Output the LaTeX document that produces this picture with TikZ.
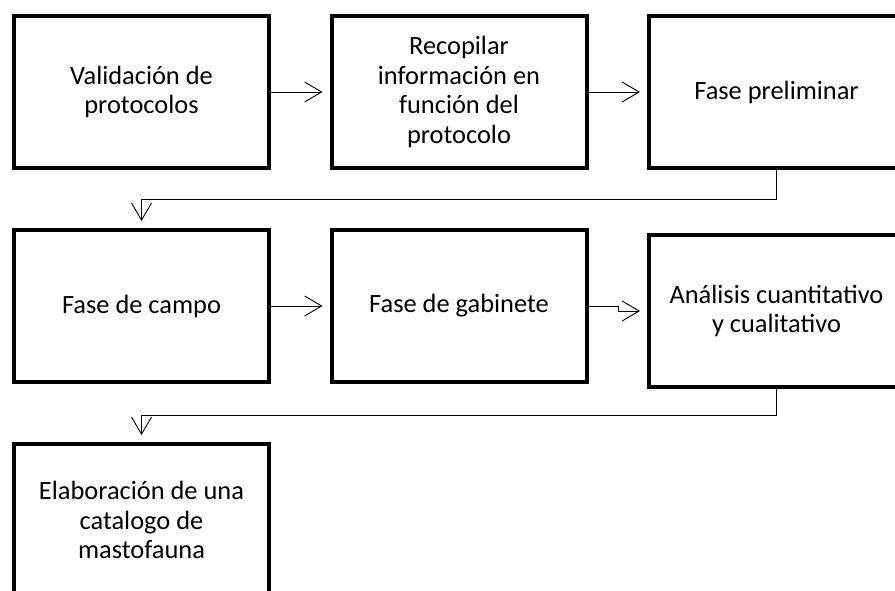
\documentclass[tikz,border=0pt]{standalone}
\usepackage{fontspec}
\setmainfont{Carlito}
\usetikzlibrary{arrows.meta}

\begin{document}
\begin{tikzpicture}[x=1pt,y=-1pt,
    box/.style={draw,line width=4pt,minimum width=255pt,minimum height=152pt,
      align=center,inner sep=0pt,font=\fontsize{26.4}{29.4}\selectfont},
    link/.style={line width=0.9pt,-{Straight Barb[length=17pt,width=20pt]},shorten >=7pt}]
    \clip (0,0) rectangle (895,591);
    \node [box] (valid) at (141.5,92) {Validación de\\protocolos};
    \node [box] (recop) at (459,92) {Recopilar\\información en\\función del\\protocolo};
    \node [box] (prelim) at (776.5,92) {Fase preliminar};
    \node [box] (campo) at (141.5,306) {Fase de campo};
    \node [box] (gabin) at (459,306) {Fase de gabinete};
    \node [box] (analis) at (776.5,311) {Análisis cuantitativo\\y cualitativo};
    \node [box] (catal) at (141.5,520) {Elaboración de una\\catalogo de\\mastofauna};
    \draw [link] (valid) -- (recop);
    \draw [link] (recop) -- (prelim);
    \draw [link] (prelim.south) -- ++(0,29) -| (campo.north);
    \draw [link] (campo.east) -- (gabin.west);
    \draw [link] (gabin.east) -- ++(30,0) |- (analis.west);
    \draw [link] (analis.south) -- ++(0,26) -| (catal.north);
\end{tikzpicture}
\end{document}
